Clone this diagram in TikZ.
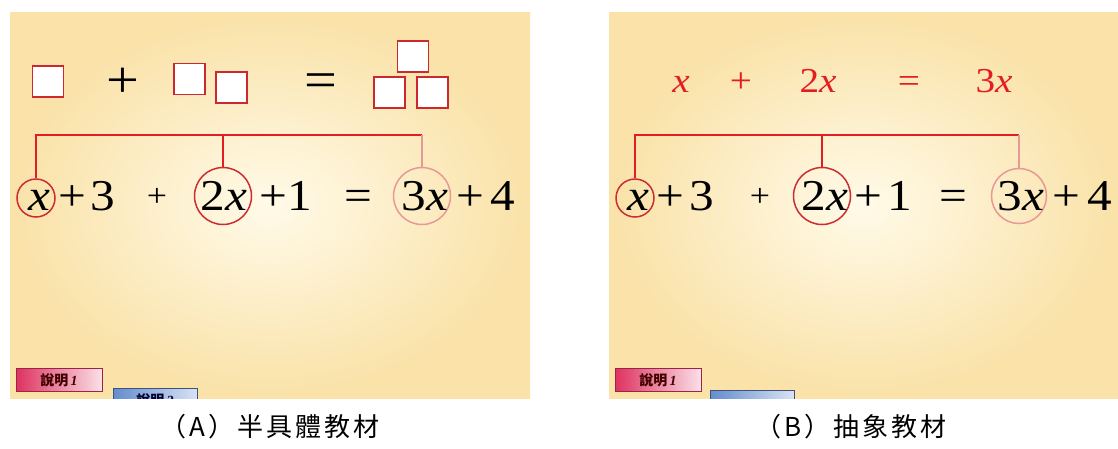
\documentclass[tikz,border=0pt]{standalone}
\usepackage{fontspec}
\newfontfamily\eqfont{Liberation Serif}
\newfontfamily\cjkfont{Noto Sans CJK TC}
\newfontfamily\capfont[LetterSpace=12]{Noto Sans CJK TC}
\definecolor{bgcream}{RGB}{250,226,168}
\definecolor{bglight}{RGB}{255,250,232}
\definecolor{boxred}{RGB}{205,40,45}
\definecolor{linered}{RGB}{226,30,35}
\definecolor{ringred}{RGB}{205,45,50}
\definecolor{ringpink}{RGB}{232,152,150}
\definecolor{btnpink}{RGB}{222,50,95}
\definecolor{btnblue}{RGB}{100,140,205}
\newcommand\wide[1]{\scalebox{1.12}[1]{#1}}
\tikzset{
  term/.style={anchor=base, inner sep=0pt, font=\eqfont\fontsize{44}{44}\selectfont},
  bigsign/.style={inner sep=0pt, font=\eqfont\fontsize{52}{52}\selectfont},
  smallsign/.style={inner sep=0pt, font=\eqfont\fontsize{32}{32}\selectfont},
  redterm/.style={anchor=base, inner sep=0pt, text=linered, font=\eqfont\fontsize{35}{35}\selectfont},
  unitbox/.style={draw=boxred, line width=1.8pt, fill=white, minimum size=31pt, inner sep=0pt},
  ring/.style={circle, draw=ringred, line width=1.5pt, inner sep=0pt},
  bracket/.style={draw=linered, line width=2.8pt},
  pinkline/.style={draw=ringpink, line width=1.6pt},
  helpbtn/.style={draw=btnpink!70!black, line width=0.6pt, minimum width=86pt, minimum height=23pt,
    left color=btnpink, right color=btnpink!15!white, text=black!75!red, inner sep=0pt,
    font=\cjkfont\bfseries\fontsize{14}{14}\selectfont},
  nextbtn/.style={draw=btnblue!60!black, line width=0.6pt, minimum width=84pt, minimum height=23pt,
    left color=btnblue, right color=btnblue!25!white, text=black!80!blue, inner sep=0pt,
    font=\cjkfont\bfseries\fontsize{14}{14}\selectfont},
  caption/.style={inner sep=0pt, font=\capfont\fontsize{26}{26}\selectfont}
}
\begin{document}
\begin{tikzpicture}[x=1pt,y=-1pt]
\useasboundingbox (0,0) rectangle (1118,448);

% panel A
\fill[bgcream] (10,12) rectangle (530,398);
\shade[inner color=bglight, outer color=bgcream] (10,12) rectangle (530,398);

\node[unitbox] (sqa) at (48,81.5) {};
\node[bigsign] (plusa) at (123,83) {\wide{+}};
\node[unitbox] (sqb) at (189.5,79) {};
\node[unitbox] (sqc) at (231.5,87.5) {};
\node[bigsign] (eqa) at (321,86) {\wide{=}};
\node[unitbox] (sqd) at (413,56.5) {};
\node[unitbox] (sqe) at (389.5,92.5) {};
\node[unitbox] (sqf) at (432.5,92.5) {};

\node[ring, minimum size=38pt] (ax) at (36,198) {};
\node[ring, minimum size=57pt] (a2x) at (223,196) {};
\node[ring, draw=ringpink, minimum size=57pt] (a3x) at (422,196) {};

\node[term] (ta1) at (39,210) {\wide{\itshape x}};
\node[term] (ta2) at (72,210) {\wide{+}};
\node[term] (ta3) at (103,210) {\wide{3}};
\node[smallsign] (ta4) at (157,197) {\wide{+}};
\node[term] (ta5) at (224,210) {\wide{2\textit{x}}};
\node[term] (ta6) at (273,210) {\wide{+}};
\node[term] (ta7) at (300,210) {\wide{1}};
\node[term] (ta8) at (358,210) {\wide{=}};
\node[term] (ta9) at (425,210) {\wide{3\textit{x}}};
\node[term] (ta10) at (470,210) {\wide{+}};
\node[term] (ta11) at (503,210) {\wide{4}};

\coordinate (abar) at (0,135);
\draw[bracket] (ax.north) -- (ax.north |- abar) -- (a3x.north |- abar);
\draw[bracket] (a2x.north |- abar) -- (a2x.north);
\draw[pinkline] (a3x.north |- abar) -- (a3x.north);

\begin{scope}
\clip (10,12) rectangle (530,398);
\node[helpbtn] (helpa) at (59,380) {說明\,{\eqfont\itshape\bfseries 1}};
\node[nextbtn] (nexta) at (155,400) {說明\,{\eqfont\itshape\bfseries 2}};
\end{scope}

% panel B
\fill[bgcream] (609,12) rectangle (1118,398);
\shade[inner color=bglight, outer color=bgcream] (609,12) rectangle (1118,398);

\node[redterm] (rb1) at (681,92) {\wide{\itshape x}};
\node[redterm] (rb2) at (741,92) {\wide{+}};
\node[redterm] (rb3) at (818,92) {\wide{2\textit{x}}};
\node[redterm] (rb4) at (909,92) {\wide{=}};
\node[redterm] (rb5) at (994,92) {\wide{3\textit{x}}};

\node[ring, minimum size=38pt] (bx) at (635,198) {};
\node[ring, minimum size=57pt] (b2x) at (822,196) {};
\node[ring, draw=ringpink, minimum size=55pt] (b3x) at (1019,196) {};

\node[term] (tb1) at (638,210) {\wide{\itshape x}};
\node[term] (tb2) at (670,210) {\wide{+}};
\node[term] (tb3) at (702,210) {\wide{3}};
\node[smallsign] (tb4) at (760,197) {\wide{+}};
\node[term] (tb5) at (825,210) {\wide{2\textit{x}}};
\node[term] (tb6) at (868,210) {\wide{+}};
\node[term] (tb7) at (900,210) {\wide{1}};
\node[term] (tb8) at (953,210) {\wide{=}};
\node[term] (tb9) at (1021,210) {\wide{3\textit{x}}};
\node[term] (tb10) at (1066,210) {\wide{+}};
\node[term] (tb11) at (1100,210) {\wide{4}};

\coordinate (bbar) at (0,135);
\draw[bracket] (bx.north) -- (bx.north |- bbar) -- (b3x.north |- bbar);
\draw[bracket] (b2x.north |- bbar) -- (b2x.north);
\draw[pinkline] (b3x.north |- bbar) -- (b3x.north);

\begin{scope}
\clip (609,12) rectangle (1118,398);
\node[helpbtn] (helpb) at (658,380) {說明\,{\eqfont\itshape\bfseries 1}};
\node[nextbtn] (nextb) at (752,402) {};
\end{scope}

% captions
\node[caption] (capa) at (270,427) {（A）半具體教材};
\node[caption] (capb) at (851,427) {（B）抽象教材};
\end{tikzpicture}
\end{document}
